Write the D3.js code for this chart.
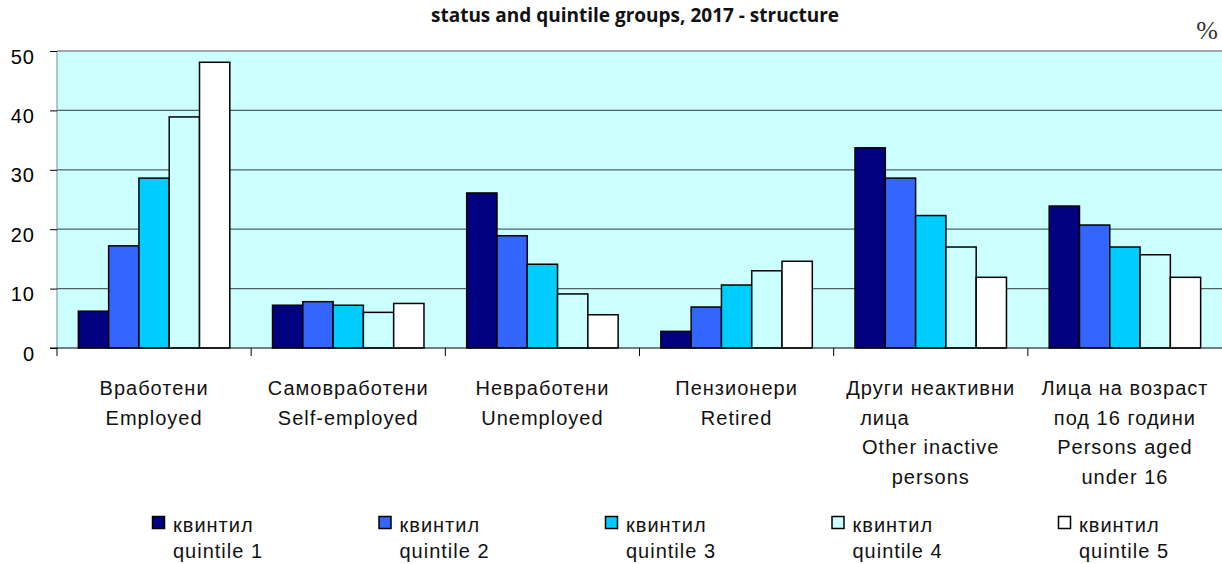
<!DOCTYPE html>
<html>
<head>
<meta charset="utf-8">
<script src="https://cdn.jsdelivr.net/npm/d3@7"></script>
<style>
    body { margin: 0; background: #fff; }
    .ytick text { font-family: "Liberation Sans", Arial, sans-serif; font-size: 16px; fill: #000; }
    .catlabel, .legtext { font-family: "Liberation Sans", Arial, sans-serif; font-size: 20px; letter-spacing: 1px; fill: #111; }
</style>
</head>
<body>
<script>
//chart data
var categories = ["Вработени", "Самовработени", "Невработени", "Пензионери", "Други неактивни", "Лица на возраст"];
var catLines = [
    ["Вработени", "Employed"],
    ["Самовработени", "Self-employed"],
    ["Невработени", "Unemployed"],
    ["Пензионери", "Retired"],
    ["Други неактивни", "лица\u00a0\u00a0\u00a0\u00a0\u00a0\u00a0\u00a0\u00a0\u00a0\u00a0\u00a0\u00a0\u00a0\u00a0", "Other inactive", "persons"],
    ["Лица на возраст", "под 16 години", "Persons aged", "under 16"]
];
var seriesNames = ["quintile 1", "quintile 2", "quintile 3", "quintile 4", "quintile 5"];
var seriesBg = ["квинтил", "квинтил", "квинтил", "квинтил", "квинтил"];
var q1 = [6.2, 7.2, 26.1, 2.8, 33.7, 23.9];
var q2 = [17.2, 7.8, 18.9, 6.9, 28.6, 20.7];
var q3 = [28.6, 7.2, 14.1, 10.6, 22.3, 17.0];
var q4 = [38.9, 6.0, 9.1, 13.0, 17.0, 15.7];
var q5 = [48.1, 7.5, 5.6, 14.6, 11.9, 11.9];
var yTicks = [0, 10, 20, 30, 40, 50];
var colors = ["#000080", "#3366FF", "#00CCFF", "#CCFFFF", "#FFFFFF"];

var allSeries = [q1, q2, q3, q4, q5];

var width = 1222, height = 564;
var plotLeft = 57, plotRight = 1222, plotTop = 51, plotBottom = 348;

//main svg
var container = d3.select("body")
    .append("svg")
    .attr("width", width)
    .attr("height", height);

//scales
var x = d3.scaleBand()
    .domain(categories)
    .range([plotLeft, plotRight])
    .paddingInner(0.22)
    .paddingOuter(0.11);

var xSub = d3.scaleBand()
    .domain(seriesNames)
    .range([0, x.bandwidth()]);

var y = d3.scaleLinear()
    .domain([0, 50])
    .range([plotBottom, plotTop]);

//plot background
container.append("rect")
    .attr("x", plotLeft)
    .attr("y", y(50))
    .attr("width", plotRight - plotLeft)
    .attr("height", y(0) - y(50))
    .style("fill", "#CCFFFF");

//gridlines
container.selectAll(".grid")
    .data(yTicks.filter(function(d){ return d > 0 && d < 50; }))
    .enter()
    .append("line")
    .attr("class", "grid")
    .attr("x1", plotLeft)
    .attr("x2", plotRight)
    .attr("y1", function(d){ return y(d); })
    .attr("y2", function(d){ return y(d); })
    .style("stroke", "#4f6262")
    .style("stroke-width", 1.3);

//top border of the plot
container.append("line")
    .attr("x1", plotLeft)
    .attr("x2", plotRight)
    .attr("y1", y(50))
    .attr("y2", y(50))
    .style("stroke", "#8a8a8a")
    .style("stroke-width", 1.5);

//left border
container.append("line")
    .attr("x1", plotLeft)
    .attr("x2", plotLeft)
    .attr("y1", y(50))
    .attr("y2", y(0))
    .style("stroke", "#7a8a8a")
    .style("stroke-width", 1);

//bars, one group per category
var groups = container.selectAll(".group")
    .data(categories)
    .enter()
    .append("g")
    .attr("class", "group")
    .attr("transform", function(d){ return "translate(" + x(d) + ",0)"; });

groups.selectAll("rect")
    .data(function(d, i){
        return allSeries.map(function(s, j){
            return { key: seriesNames[j], value: s[i], color: colors[j] };
        });
    })
    .enter()
    .append("rect")
    .attr("x", function(d){ return xSub(d.key); })
    .attr("y", function(d){ return y(d.value); })
    .attr("width", xSub.bandwidth())
    .attr("height", function(d){ return y(0) - y(d.value); })
    .style("fill", function(d){ return d.color; })
    .style("stroke", "#000")
    .style("stroke-width", 1.5);

//y axis
var yAxis = d3.axisLeft(y)
    .tickValues(yTicks)
    .tickSize(7)
    .tickPadding(0);

var yg = container.append("g")
    .attr("class", "ytick")
    .attr("transform", "translate(" + plotLeft + ",0)")
    .call(yAxis);
yg.select(".domain").remove();
yg.selectAll("line").style("stroke", "#000");
yg.selectAll("text")
    .attr("x", -22)
    .attr("dy", "12px")
    .style("font-size", "20px")
    .style("letter-spacing", "1px");

//x axis baseline and category ticks
container.append("line")
    .attr("x1", plotLeft - 7)
    .attr("x2", plotRight)
    .attr("y1", y(0))
    .attr("y2", y(0))
    .style("stroke", "#000")
    .style("stroke-width", 1.2);

container.selectAll(".xtick")
    .data(categories)
    .enter()
    .append("line")
    .attr("class", "xtick")
    .attr("x1", function(d){ return x(d) - x.step() * 0.11; })
    .attr("x2", function(d){ return x(d) - x.step() * 0.11; })
    .attr("y1", y(0))
    .attr("y2", y(0) + 8)
    .style("stroke", "#000");

//category labels
var labels = container.selectAll(".catlabel")
    .data(categories)
    .enter()
    .append("text")
    .attr("class", "catlabel")
    .attr("text-anchor", "middle")
    .style("white-space", "pre");

labels.selectAll("tspan")
    .data(function(d, i){
        return catLines[i].map(function(t){ return { text: t, cx: x(d) + x.bandwidth() / 2 }; });
    })
    .enter()
    .append("tspan")
    .attr("x", function(d){ return d.cx; })
    .attr("y", function(d, i){ return 395 + i * 29.7; })
    .text(function(d){ return d.text; });

//legend
var lx = d3.scalePoint()
    .domain(seriesNames)
    .range([152, 1058]);

var legend = container.selectAll(".legend")
    .data(seriesNames)
    .enter()
    .append("g")
    .attr("class", "legend")
    .attr("transform", function(d){ return "translate(" + lx(d) + ",0)"; });

legend.append("rect")
    .attr("x", 0.5)
    .attr("y", 516.5)
    .attr("width", 12)
    .attr("height", 12)
    .style("fill", function(d, i){ return colors[i]; })
    .style("stroke", "#000")
    .style("stroke-width", 1.5);

legend.append("text")
    .attr("class", "legtext")
    .attr("x", 21)
    .attr("y", 532)
    .text(function(d, i){ return seriesBg[i]; });

legend.append("text")
    .attr("class", "legtext")
    .attr("x", 21)
    .attr("y", 558)
    .text(function(d){ return d; });

//title (first line is cut off at the top of the picture)
container.append("text")
    .attr("x", 635)
    .attr("y", 22)
    .attr("text-anchor", "middle")
    .style("font-family", "'Open Sans', sans-serif")
    .style("font-weight", "bold")
    .style("font-size", "19px")
    .style("fill", "#111")
    .text("status and quintile groups, 2017 - structure");

//percent sign
container.append("text")
    .attr("x", 1218)
    .attr("y", 39)
    .attr("text-anchor", "end")
    .style("font-family", "'Liberation Serif', serif")
    .style("font-size", "26px")
    .style("fill", "#333")
    .text("%");
</script>
</body>
</html>
